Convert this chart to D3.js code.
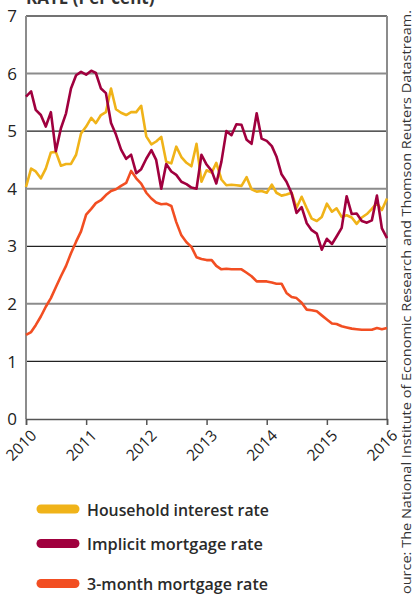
<!DOCTYPE html>
<html><head><meta charset="utf-8">
<script src="https://cdn.jsdelivr.net/npm/d3@7"></script>
<style>html,body{margin:0;padding:0;background:#fff;}svg{display:block;}</style>
</head><body>
<script>
const household = [4.03,4.35,4.30,4.18,4.35,4.63,4.64,4.40,4.43,4.43,4.59,4.96,5.08,5.23,5.14,5.28,5.33,5.74,5.38,5.32,5.28,5.33,5.33,5.44,4.91,4.77,4.82,4.90,4.47,4.44,4.73,4.55,4.45,4.39,4.78,4.12,4.32,4.28,4.45,4.16,4.06,4.07,4.06,4.05,4.20,3.99,3.95,3.96,3.93,4.07,3.93,3.88,3.90,3.93,3.67,3.86,3.66,3.48,3.44,3.51,3.74,3.60,3.66,3.51,3.54,3.50,3.39,3.50,3.56,3.65,3.75,3.63,3.83];
const implicit = [5.60,5.69,5.37,5.28,5.08,5.33,4.65,5.05,5.31,5.74,5.97,6.03,5.98,6.05,6.01,5.74,5.66,5.14,4.94,4.68,4.52,4.59,4.27,4.34,4.52,4.67,4.50,4.00,4.43,4.30,4.24,4.12,4.08,4.02,4.00,4.59,4.42,4.31,4.09,4.47,5.00,4.93,5.12,5.11,4.85,4.78,5.31,4.87,4.83,4.74,4.56,4.25,4.12,3.92,3.58,3.68,3.40,3.28,3.22,2.94,3.13,3.04,3.17,3.32,3.87,3.56,3.57,3.44,3.41,3.45,3.88,3.31,3.14];
const threeMonth = [1.46,1.51,1.63,1.78,1.95,2.10,2.29,2.48,2.66,2.88,3.08,3.26,3.55,3.65,3.75,3.80,3.89,3.96,3.99,4.05,4.10,4.31,4.18,4.09,3.93,3.83,3.76,3.73,3.74,3.70,3.42,3.19,3.07,2.99,2.81,2.78,2.76,2.76,2.66,2.60,2.61,2.60,2.60,2.60,2.54,2.48,2.39,2.39,2.39,2.37,2.35,2.35,2.19,2.12,2.10,2.02,1.90,1.89,1.87,1.80,1.73,1.66,1.65,1.61,1.59,1.57,1.56,1.55,1.55,1.55,1.58,1.56,1.58];
const yearTicks = [2010,2011,2012,2013,2014,2015,2016];
const yTicks = [0,1,2,3,4,5,6,7];
const seriesNames = ["Household interest rate","Implicit mortgage rate","3-month mortgage rate"];
const seriesColors = ["#f0b319","#a0003e","#f24e22"];
const titleText = "RATE (Per cent)";
const sourceText = "Source: The National Institute of Economic Research and Thomson Reuters Datastream.";

const W = 414, H = 594;
const svg = d3.select("body").append("svg").attr("width", W).attr("height", H);
const dates = household.map((d,i) => new Date(2010, i, 1));
const x = d3.scaleTime().domain([new Date(2010,0,1), new Date(2016,0,1)]).range([26, 387]);
const y = d3.scaleLinear().domain([0,7]).range([419, 16]);

// title (cut off at the top, as in the original)
svg.append("text").attr("x", 26).attr("y", 3.5)
  .attr("font-family", "Open Sans, sans-serif").attr("font-weight", 700)
  .attr("font-size", 17).attr("fill", "#333").text(titleText);

// gridlines
svg.append("g").selectAll("line").data(yTicks.filter(v => v > 0 && v < 7)).join("line")
  .attr("x1", 26).attr("x2", 387).attr("y1", d => y(d)).attr("y2", d => y(d))
  .attr("stroke", d => d % 2 === 0 ? "#8c8c8c" : "#222")
  .attr("stroke-width", d => d % 2 === 0 ? 2 : 1.2);

// frame
svg.append("line").attr("x1", 26).attr("x2", 387).attr("y1", y(7)).attr("y2", y(7)).attr("stroke", "#444").attr("stroke-width", 1.5);
svg.append("line").attr("x1", 26).attr("x2", 26).attr("y1", y(7)).attr("y2", y(0)).attr("stroke", "#8c8c8c").attr("stroke-width", 2);
svg.append("line").attr("x1", 387).attr("x2", 387).attr("y1", y(7)).attr("y2", y(0)).attr("stroke", "#8c8c8c").attr("stroke-width", 2);

// y labels
svg.append("g").selectAll("text").data(yTicks).join("text")
  .attr("x", 17).attr("y", d => y(d)).attr("dy", "0.36em").attr("text-anchor", "end")
  .attr("font-family", "Open Sans, sans-serif").attr("font-size", 17).attr("fill", "#222")
  .text(d => d);

// x axis
const xAxis = d3.axisBottom(x).tickValues(yearTicks.map(yv => new Date(yv,0,1))).tickSize(6).tickFormat("");
const gx = svg.append("g").attr("transform", `translate(0,${y(0)})`).call(xAxis);
gx.select(".domain").attr("stroke", "#555").attr("stroke-width", 1.5);
gx.selectAll(".tick line").attr("stroke", "#555").attr("stroke-width", 1.5);
svg.append("g").selectAll("text").data(yearTicks).join("text")
  .attr("transform", d => `translate(${x(new Date(d,0,1)) + 5},${y(0) + 11}) rotate(-45)`)
  .attr("text-anchor", "end").attr("dy", "0.6em")
  .attr("font-family", "Open Sans, sans-serif").attr("font-size", 15.5).attr("fill", "#222")
  .text(d => d);

// lines
const line = d3.line().x((d,i) => x(dates[i])).y(d => y(d));
[threeMonth, household, implicit].forEach((s, k) => {
  const col = [seriesColors[2], seriesColors[0], seriesColors[1]][k];
  svg.append("path").datum(s).attr("d", line).attr("fill", "none")
    .attr("stroke", col).attr("stroke-width", 2.6).attr("stroke-linejoin", "round");
});

// legend
const legY = [509, 543.5, 583.5];
seriesNames.forEach((n, i) => {
  svg.append("line").attr("x1", 41).attr("x2", 75).attr("y1", legY[i]).attr("y2", legY[i])
    .attr("stroke", seriesColors[i]).attr("stroke-width", 9).attr("stroke-linecap", "round");
  svg.append("text").attr("x", 87).attr("y", legY[i] + 6.5)
    .attr("font-family", "Open Sans, sans-serif").attr("font-weight", 600).attr("font-size", 17)
    .attr("fill", "#2a2a2a").attr("textLength", [182,176,181][i]).attr("lengthAdjust", "spacingAndGlyphs")
    .text(n);
});

// source (runs off the bottom edge, as in the original)
svg.append("text").attr("transform", "translate(411,10) rotate(-90)")
  .attr("text-anchor", "end").attr("font-family", "Open Sans, sans-serif").attr("font-size", 13)
  .attr("fill", "#333").attr("textLength", 592).attr("lengthAdjust", "spacingAndGlyphs")
  .text(sourceText);
</script>
</body></html>
